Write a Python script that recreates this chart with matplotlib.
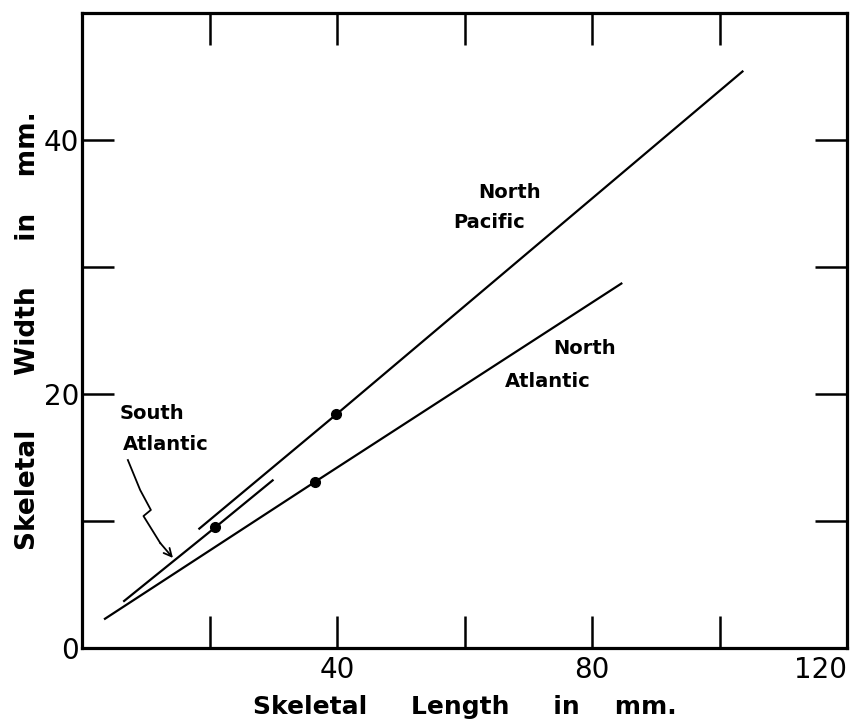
import matplotlib
matplotlib.use("Agg")
from matplotlib import pyplot as plt

# regression lines (length, width in mm)
pacific_x = [18.4, 39.9, 103.6]
pacific_y = [9.4, 18.4, 45.4]
south_x = [6.6, 20.9, 29.9]
south_y = [3.7, 9.5, 13.2]
north_atl_x = [3.6, 36.6, 84.6]
north_atl_y = [2.3, 13.1, 28.7]

# mean points marked with dots
dot_x = [20.9, 36.6, 39.9]
dot_y = [9.5, 13.1, 18.4]

x_major = [40, 80, 120]
x_minor = [20, 60, 100]
y_major = [0, 20, 40]
y_minor = [10, 30]

# squiggly pointer from the "South Atlantic" label
squiggle_x = [7.19, 9.12, 10.8, 9.64, 12.26]
squiggle_y = [14.8, 12.44, 10.87, 10.39, 8.27]
squiggle_tip = (14.26, 7.09)


def main():
    fig = plt.figure(figsize=(8.5, 7.27), dpi=100)
    ax = fig.add_axes([0.0965, 0.1087, 0.9, 0.8733])

    lw = 1.6
    ax.plot(pacific_x, pacific_y, color='k', lw=lw)
    ax.plot(south_x, south_y, color='k', lw=lw)
    ax.plot(north_atl_x, north_atl_y, color='k', lw=lw)
    ax.plot(dot_x, dot_y, 'o', color='k', ms=7, ls='none')

    ax.plot(squiggle_x, squiggle_y, color='k', lw=1.3)
    ax.annotate('', xy=squiggle_tip, xytext=(squiggle_x[-1], squiggle_y[-1]),
                arrowprops=dict(arrowstyle='->', color='k', lw=1.3,
                                mutation_scale=14, shrinkA=0, shrinkB=0))

    txt = dict(fontsize=14, fontweight='bold', ha='center', va='center')
    ax.text(67.1, 35.9, 'North', **txt)
    ax.text(63.8, 33.5, 'Pacific', **txt)
    ax.text(78.8, 23.6, 'North', **txt)
    ax.text(73.1, 21.0, 'Atlantic', **txt)
    ax.text(11.0, 18.5, 'South', **txt)
    ax.text(13.2, 16.0, 'Atlantic', **txt)

    ax.set_xlim(0, 120)
    ax.set_ylim(0, 50)
    ax.set_xticks(x_major)
    ax.set_xticks(x_minor, minor=True)
    ax.set_yticks(y_major)
    ax.set_yticks(y_minor, minor=True)
    ax.set_xticklabels([str(v) for v in x_major])
    ax.set_yticklabels([str(v) for v in y_major])
    ax.get_xticklabels()[-1].set_ha('right')

    for which in ('major', 'minor'):
        ax.tick_params(axis='both', which=which, direction='in', length=23,
                       width=1.8, top=True, right=True, labelsize=20, pad=6)
    ax.tick_params(axis='y', which='major', pad=2)

    for s in ax.spines.values():
        s.set_linewidth(2.3)

    ax.set_xlabel('Skeletal     Length     in    mm.', fontsize=18,
                  fontweight='bold', labelpad=8)
    ax.set_ylabel('Skeletal      Width     in    mm.', fontsize=19,
                  fontweight='bold', labelpad=2)

    fig.savefig('out.png', dpi=100)


if __name__ == '__main__':
    main()
